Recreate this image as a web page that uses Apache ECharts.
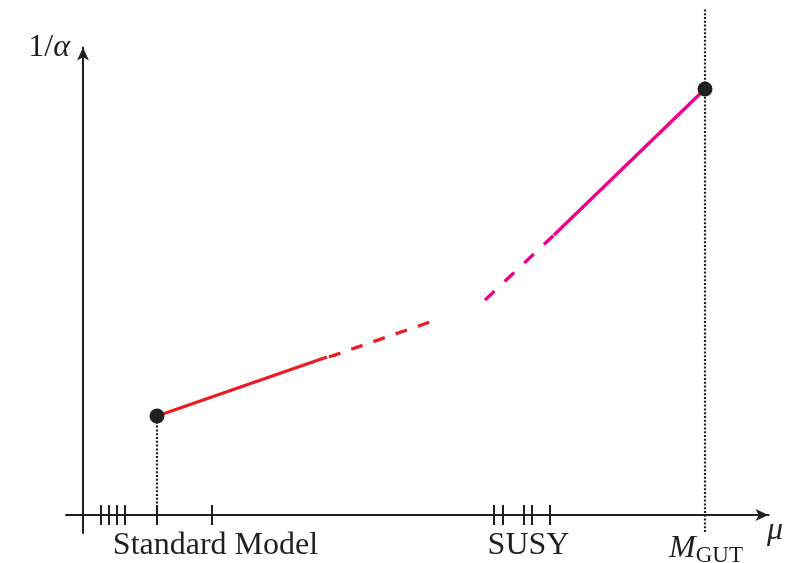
<!DOCTYPE html>
<html>
<head>
<meta charset="utf-8">
<script src="https://cdn.jsdelivr.net/npm/echarts@6/dist/echarts.min.js"></script>
<style>
  html, body { margin: 0; padding: 0; background: #fff; }
  #chart { width: 796px; height: 563px; }
</style>
</head>
<body>
<div id="chart"></div>
<script>
// Schematic running of the inverse gauge coupling 1/alpha with the energy scale mu.
// Units are arbitrary; the origin sits where the two axes cross.

// Endpoints of the running
const smPoint = [7.4, 9.9];      // low-energy Standard Model value
const gutPoint = [62.2, 42.6];   // unification scale

// Standard Model running: measured (solid) then extrapolated (dashed)
const smSolid = [[7.4, 9.9], [24.4, 15.8]];
const smDashed = [[24.6, 15.8], [34.7, 19.3]];

// SUSY running: dashed start, then solid up to unification
const susyDashed = [[40.2, 21.5], [47.1, 28.0]];
const susySolid = [[47.1, 28.0], [62.2, 42.6]];

// Tick marks on the scale axis
const smTicks = [1.8, 2.6, 3.4, 4.2, 7.4, 12.9];
const susyTicks = [41.1, 42.0, 44.1, 44.9, 46.7];

// Scale labels under the axis
const labelValues = [13.25, 44.55, 62.3];
const labelTexts = ['Standard Model', 'SUSY', '{m|M}{s|GUT}'];

const INK = '#231f20';
const RED = '#ed1c24';
const MAGENTA = '#ec008c';
const SERIF = '"Liberation Serif", "DejaVu Serif", serif';

const chart = echarts.init(document.getElementById('chart'), null, { renderer: 'canvas' });

const lineBase = {
  type: 'line',
  symbol: 'none',
  silent: true,
  emphasis: { disabled: true },
  animation: false
};

const option = {
  animation: false,
  backgroundColor: '#ffffff',
  grid: [
    { left: 66, right: 27.5, top: 47.5, bottom: 30, outerBoundsMode: 'none', containLabel: false },
    { left: 66, right: 27.5, top: 8, bottom: 31, outerBoundsMode: 'none', containLabel: false }
  ],
  xAxis: [
    {
      type: 'value',
      gridIndex: 0,
      min: -1.7,
      max: 68.55,
      splitLine: { show: false },
      axisTick: { show: false },
      axisLine: {
        onZero: true,
        symbol: ['none', 'arrow'],
        symbolSize: [9, 13],
        lineStyle: { color: INK, width: 2 }
      },
      axisLabel: {
        customValues: labelValues,
        formatter: function (v) {
          const i = labelValues.indexOf(v);
          return i >= 0 ? labelTexts[i] : '';
        },
        margin: -3,
        color: INK,
        fontFamily: SERIF,
        fontSize: 32,
        rich: {
          m: { fontFamily: SERIF, fontStyle: 'italic', fontSize: 32, color: INK },
          s: { fontFamily: SERIF, fontSize: 23, color: INK, padding: [14, 0, 0, 0] }
        }
      },
      name: 'μ',
      nameLocation: 'end',
      nameGap: -1.5,
      nameTextStyle: {
        fontFamily: SERIF,
        fontStyle: 'italic',
        fontSize: 32,
        color: INK,
        align: 'left',
        verticalAlign: 'top'
      }
    },
    { type: 'value', gridIndex: 1, min: -1.7, max: 68.55, show: false }
  ],
  yAxis: [
    {
      type: 'value',
      gridIndex: 0,
      min: -1.8,
      max: 46.75,
      splitLine: { show: false },
      axisTick: { show: false },
      axisLabel: { show: false },
      axisLine: {
        onZero: true,
        symbol: ['none', 'arrow'],
        symbolSize: [9, 13],
        lineStyle: { color: INK, width: 2 }
      },
      name: '{n|1/}{a|α}',
      nameLocation: 'end',
      nameGap: 0,
      nameTextStyle: {
        align: 'right',
        verticalAlign: 'middle',
        padding: [0, 13, 0, 0],
        rich: {
          n: { fontFamily: SERIF, fontSize: 32, color: INK },
          a: { fontFamily: SERIF, fontStyle: 'italic', fontSize: 32, color: INK }
        }
      }
    },
    { type: 'value', gridIndex: 1, min: 0, max: 1, show: false }
  ],
  series: [
    Object.assign({}, lineBase, {
      name: 'SM guide',
      data: [[smPoint[0], 0], smPoint],
      lineStyle: { color: INK, width: 2.2, type: [2, 1.8], cap: 'butt' },
      z: 1
    }),
    Object.assign({}, lineBase, {
      name: 'GUT guide',
      xAxisIndex: 1,
      yAxisIndex: 1,
      data: [[gutPoint[0], 0], [gutPoint[0], 1]],
      lineStyle: { color: INK, width: 2.2, type: [2, 1.8], cap: 'butt' },
      z: 1
    }),
    Object.assign({}, lineBase, {
      name: 'SM',
      data: smSolid,
      lineStyle: { color: RED, width: 3.3, cap: 'butt' },
      z: 3
    }),
    Object.assign({}, lineBase, {
      name: 'SM extrapolated',
      data: smDashed,
      lineStyle: { color: RED, width: 3.3, type: [12, 11.5], cap: 'butt' },
      z: 3
    }),
    Object.assign({}, lineBase, {
      name: 'SUSY start',
      data: susyDashed,
      lineStyle: { color: MAGENTA, width: 3.3, type: [13, 14], cap: 'butt' },
      z: 3
    }),
    Object.assign({}, lineBase, {
      name: 'SUSY',
      data: susySolid,
      lineStyle: { color: MAGENTA, width: 3.3, cap: 'butt' },
      z: 3
    }),
    {
      name: 'ticks',
      type: 'scatter',
      silent: true,
      symbol: 'rect',
      symbolSize: [2, 20],
      itemStyle: { color: INK, opacity: 1 },
      data: smTicks.concat(susyTicks).map(function (t) { return [t, 0]; }),
      z: 2
    },
    {
      name: 'endpoints',
      type: 'scatter',
      silent: true,
      symbol: 'circle',
      symbolSize: 15,
      itemStyle: { color: INK, opacity: 1 },
      data: [smPoint, gutPoint],
      z: 5
    }
  ]
};

chart.setOption(option);
</script>
</body>
</html>
